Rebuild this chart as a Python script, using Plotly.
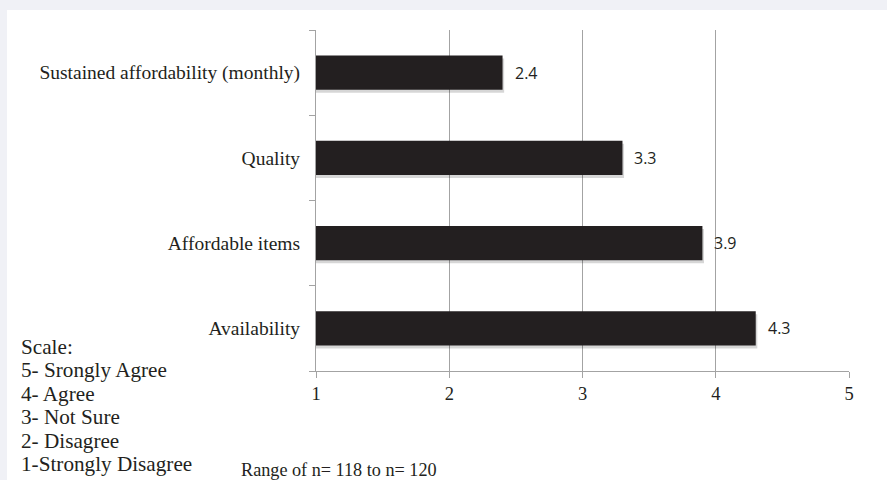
import plotly.graph_objects as go

categories = ["Availability", "Affordable items", "Quality", "Sustained affordability (monthly)"]
values = [4.3, 3.9, 3.3, 2.4]
x_ticks = [1, 2, 3, 4, 5]
scale_lines = ["Scale:", "5- Srongly Agree", "4- Agree", "3- Not Sure", "2- Disagree", "1-Strongly Disagree"]
note_text = "Range of n= 118 to n= 120"

W, H = 887, 480
L, R, T, B = 316, 38, 30, 109
pw, ph = W - L - R, H - T - B

def px_x(x):
    return (x - L) / pw

def px_y(y):
    return (H - B - y) / ph

bar_color = "#231F20"
grid_color = "#A3A3A3"
bar_w = 0.4

fig = go.Figure()
# soft drop shadow under the bars
fig.add_trace(go.Bar(
    y=categories, x=[v + 0.012 for v in values], orientation="h",
    marker=dict(color="rgba(0,0,0,0.16)", line=dict(width=0)),
    width=bar_w, offset=-bar_w / 2 - 0.035, hoverinfo="skip",
))
fig.add_trace(go.Bar(
    y=categories, x=values, orientation="h",
    marker=dict(color=bar_color, line=dict(width=0)),
    width=bar_w, offset=-bar_w / 2, hoverinfo="skip",
))

annotations = []
for c, v in zip(categories, values):
    annotations.append(dict(
        x=v, y=c, xref="x", yref="y", text=f"{v:.1f}", showarrow=False,
        xanchor="left", xshift=10,
        font=dict(family="Open Sans", size=16, color=bar_color),
    ))

for i, line in enumerate(scale_lines):
    annotations.append(dict(
        x=px_x(19), y=px_y(347 + i * 23.4), xref="paper", yref="paper",
        text=line, showarrow=False, xanchor="left", yanchor="middle",
        font=dict(family="Liberation Serif", size=21.2, color=bar_color),
    ))

annotations.append(dict(
    x=px_x(239), y=px_y(470), xref="paper", yref="paper",
    text=note_text, showarrow=False, xanchor="left", yanchor="middle",
    font=dict(family="Liberation Serif", size=18.2, color=bar_color),
))

shapes = [dict(
    type="rect", xref="paper", yref="paper", layer="below",
    x0=px_x(7), x1=px_x(W + 2), y0=px_y(H + 2), y1=px_y(10),
    fillcolor="white", line=dict(width=0),
)]

fig.update_layout(
    width=W, height=H,
    margin=dict(l=L, r=R, t=T, b=B, pad=0),
    paper_bgcolor="#F0F1F6", plot_bgcolor="white",
    showlegend=False, barmode="overlay",
    annotations=annotations, shapes=shapes,
    font=dict(family="Liberation Serif", color=bar_color),
    xaxis=dict(
        range=[1, 5], tickvals=x_ticks, ticktext=[str(t) for t in x_ticks],
        showgrid=True, gridcolor=grid_color, gridwidth=1,
        showline=True, linecolor=grid_color, linewidth=1,
        ticks="outside", ticklen=6, tickcolor=grid_color,
        tickfont=dict(family="Liberation Serif", size=18.5, color=bar_color),
        zeroline=False, fixedrange=True,
    ),
    yaxis=dict(
        categoryorder="array", categoryarray=categories,
        range=[-0.5, len(categories) - 0.5],
        showline=True, linecolor=grid_color, linewidth=1,
        ticks="outside", ticklen=6, tickcolor=grid_color, tickson="boundaries",
        showgrid=False, ticklabelstandoff=11,
        tickfont=dict(family="Liberation Serif", size=19.5, color=bar_color),
        fixedrange=True,
    ),
)

fig.write_html("out.html")
